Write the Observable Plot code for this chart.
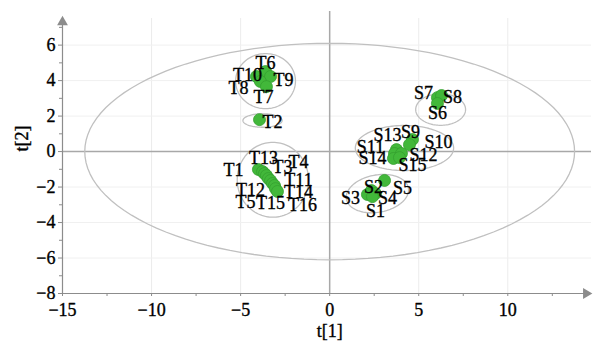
<!DOCTYPE html>
<html><head><meta charset="utf-8">
<script src="https://cdn.jsdelivr.net/npm/d3@7"></script>
<script src="https://cdn.jsdelivr.net/npm/@observablehq/plot@0.6"></script>
<style>body{margin:0;background:#fff}svg{display:block}svg text, svg g{font-family:"Liberation Serif","DejaVu Serif","Times New Roman",serif !important;}</style>
</head><body><div id="chart"></div>
<script>
// Scores (t[1], t[2])
const names = ["T6","T10","T9","T8","T7","T2",
  "T1","T13","T12","T3","T5","T4","T15","T11","T14","T16",
  "S7","S8","S6",
  "S9","S10","S13","S11","S12","S14","S15",
  "S5","S2","S4","S3","S1"];
const t1 = [-3.60,-4.11,-3.32,-3.89,-3.55,-3.94,
  -4.00,-3.77,-3.66,-3.55,-3.44,-3.32,-3.21,-3.10,-3.04,-2.93,
  6.05,6.28,6.05,
  4.65,4.48,3.75,3.64,4.03,3.58,3.92,
  3.08,2.35,2.57,2.12,2.40];
const t2 = [4.51,4.23,4.23,3.95,3.66,1.80,
  -1.01,-1.13,-1.24,-1.35,-1.52,-1.63,-1.80,-1.91,-2.09,-2.25,
  3.04,3.16,2.71,
  0.68,0.39,0.11,-0.11,-0.11,-0.39,-0.34,
  -1.63,-2.20,-2.37,-2.42,-2.54];
// label offsets (px) relative to each point
const labelDx = [0,-9,13,-22,-3,13, -25,1,-14,16,-23,28,-2,24,23,25, -14,11,0, -2,29,-9,-24,22,-21,13, 18,2,12,-17,3];
const labelDy = [-8,-1,4,7,11,3, 1,-13,17,-8,24,-18,20,-5,4,14, -4,2,10, -7,-2,-14,-6,2,0,8, 8,-3,5,4,15];

// group ellipses: centre, radii (data units), tilt
const ellCx = [0, -3.60, -3.77, -3.19, 6.23, 4.20, 2.68];
const ellCy = [0, 3.97, 1.75, -1.59, 2.37, 0.20, -2.37];
const ellRx = [13.75, 1.68, 1.10, 2.00, 1.40, 2.76, 1.85];
const ellRy = [6.10, 1.55, 0.38, 2.11, 0.89, 1.27, 1.10];
const ellAngle = [0, 0, 0, 0, 0, 0, 20];

const xTicks = [-15,-10,-5,0,5,10];
const xMinor = [-12.5,-7.5,-2.5,2.5,7.5,12.5];
const yTicks = [-8,-6,-4,-2,0,2,4,6];
const yMinor = [-7,-5,-3,-1,1,3,5,7];
const xGrid = [-10,-5,5,10];
const yGrid = [-6,-4,-2,2,4,6];

const pts = names.map((n,i)=>({name:n, x:t1[i], y:t2[i], dx:labelDx[i], dy:labelDy[i]}));
const ell = [];
ellCx.forEach((cx,k)=>{
  const a = ellAngle[k]*Math.PI/180;
  for (let j=0;j<=120;j++){
    const th = j/120*2*Math.PI;
    const ex = ellRx[k]*Math.cos(th), ey = ellRy[k]*Math.sin(th);
    ell.push({k, x: cx + ex*Math.cos(a) - ey*Math.sin(a)*0.5, y: ellCy[k] + ex*Math.sin(a)*0.5 + ey*Math.cos(a)});
  }
});

const font = "Liberation Serif, DejaVu Serif, serif";
const fs = 18;
const ts = {stroke: "#000", strokeWidth: 0.35};
const chart = Plot.plot({
  width: 596, height: 351,
  marginLeft: 62, marginRight: 5, marginTop: 18, marginBottom: 58,
  x: {domain: [-15, 14.7]},
  y: {domain: [-8, 7.5]},
  style: {fontFamily: font, fontSize: fs + "px", background: "#fff"},
  marks: [
    Plot.ruleX(xGrid, {stroke: "#ececec", strokeWidth: 1}),
    Plot.ruleY(yGrid, {stroke: "#f0f0f0", strokeWidth: 1}),
    Plot.ruleX([0], {y1: -8, y2: 7.9, stroke: "#a8a8a8", strokeWidth: 1.5}),
    Plot.ruleY([0], {stroke: "#a8a8a8", strokeWidth: 1.5}),
    Plot.line(ell, {x: "x", y: "y", z: "k", stroke: "#c0c0c0", strokeWidth: 1.3, curve: "linear"}),
    Plot.dot(pts, {x: "x", y: "y", r: 6, fill: "#42b83a", stroke: "#35a030", strokeWidth: 0.8}),
    ...pts.map(p => Plot.text([p], {x: "x", y: "y", text: "name", dx: p.dx, dy: p.dy, fill: "#000", ...ts, fontSize: fs, fontFamily: font})),
    // axis lines with arrow heads
    Plot.ruleX([-15], {y1: -8, y2: 7.3, stroke: "#8c8c8c", strokeWidth: 1.2}),
    Plot.ruleY([-8], {x1: -15, x2: 14.4, stroke: "#8c8c8c", strokeWidth: 1.2}),
    Plot.dot([{x:-15, y:7.3}], {x:"x", y:"y", symbol: "triangle", r: 4, fill: "#8c8c8c", stroke: "none"}),
    Plot.dot([{x:14.4, y:-8}], {x:"x", y:"y", symbol: "triangle", rotate: 90, r: 4, fill: "#8c8c8c", stroke: "none"}),
    Plot.axisX({ticks: xTicks, tickSize: 3, tickPadding: 7, stroke: "#8c8c8c", fill: "#000", textStroke: "#000", textStrokeWidth: 0.35, fontSize: fs, fontFamily: font, label: null}),
    Plot.axisX({ticks: xMinor, tickSize: 3, text: null, stroke: "#8c8c8c", label: null}),
    Plot.axisY({ticks: yTicks, tickSize: 4, tickPadding: 3, stroke: "#8c8c8c", fill: "#000", textStroke: "#000", textStrokeWidth: 0.35, fontSize: fs, fontFamily: font, label: null}),
    Plot.axisY({ticks: yMinor, tickSize: 3, text: null, stroke: "#8c8c8c", label: null}),
    Plot.text(["t[1]"], {x: 0, frameAnchor: "bottom", dy: 43, fontSize: fs, fontFamily: font, fill: "#000", ...ts}),
    Plot.text(["t[2]"], {y: 0, frameAnchor: "left", dx: -40, rotate: -90, fontSize: fs, fontFamily: font, fill: "#000", ...ts})
  ]
});
document.getElementById("chart").append(chart);
</script></body></html>
